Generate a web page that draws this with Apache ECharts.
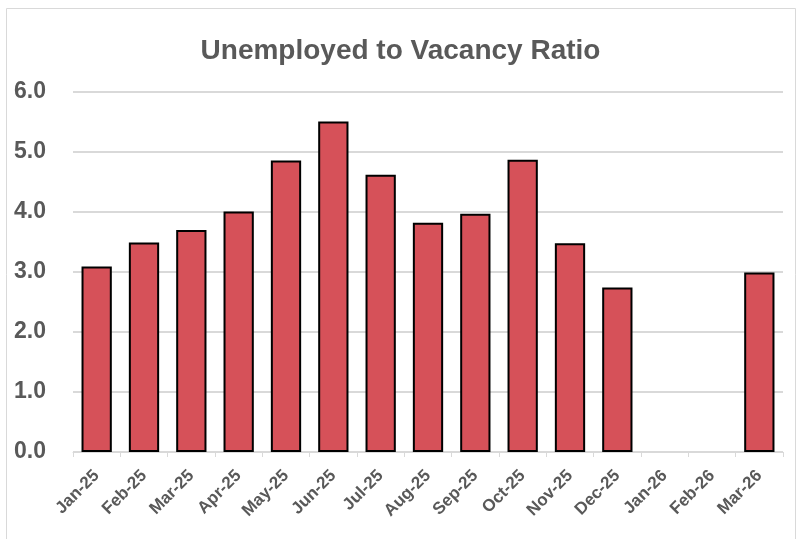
<!DOCTYPE html>
<html>
<head>
<meta charset="utf-8">
<script src="https://cdn.jsdelivr.net/npm/echarts@6/dist/echarts.min.js"></script>
<style>
  html, body { margin: 0; padding: 0; background: #fff; }
  #chart { width: 801px; height: 539px; }
</style>
</head>
<body>
<div id="chart"></div>
<script>
var months = ['Jan-25', 'Feb-25', 'Mar-25', 'Apr-25', 'May-25', 'Jun-25', 'Jul-25', 'Aug-25',
  'Sep-25', 'Oct-25', 'Nov-25', 'Dec-25', 'Jan-26', 'Feb-26', 'Mar-26']
var ratio = [3.09, 3.49, 3.7, 4.01, 4.86, 5.51, 4.62, 3.82, 3.97, 4.87, 3.48, 2.74, null, null, 2.99]
var yTicks = [0, 1, 2, 3, 4, 5, 6]

var font = 'Liberation Sans, sans-serif'
var grey = '#595959'

var chart = echarts.init(document.getElementById('chart'))
chart.setOption({
  animation: false,
  graphic: [{
    type: 'rect',
    shape: { x: 6.5, y: 8.5, width: 789, height: 560 },
    style: { fill: 'none', stroke: '#d9d9d9', lineWidth: 1 }
  }],
  title: {
    text: 'Unemployed to Vacancy Ratio',
    left: 'center',
    top: 32,
    textStyle: { fontFamily: font, fontSize: 28, fontWeight: 'bold', color: grey }
  },
  grid: { left: 73, right: 18, top: 92, bottom: 87 },
  xAxis: {
    type: 'category',
    data: months,
    axisLine: { lineStyle: { color: '#d9d9d9', width: 1 } },
    axisTick: { show: true, length: 5, lineStyle: { color: '#d9d9d9' } },
    axisLabel: {
      interval: 0,
      rotate: 45,
      margin: 21,
      fontFamily: font,
      fontSize: 17,
      fontWeight: 'bold',
      color: grey
    }
  },
  yAxis: {
    type: 'value',
    min: yTicks[0],
    max: yTicks[yTicks.length - 1],
    interval: 1,
    axisLine: { show: false },
    axisTick: { show: false },
    splitLine: { lineStyle: { color: '#d9d9d9', width: 2 } },
    axisLabel: {
      margin: 59,
      align: 'left',
      fontFamily: font,
      fontSize: 23,
      fontWeight: 'bold',
      color: grey,
      formatter: function (v) { return v.toFixed(1) }
    }
  },
  series: [{
    type: 'bar',
    data: ratio,
    barWidth: '64%',
    itemStyle: { color: '#d65159', borderColor: '#000', borderWidth: 2 }
  }]
})
</script>
</body>
</html>
